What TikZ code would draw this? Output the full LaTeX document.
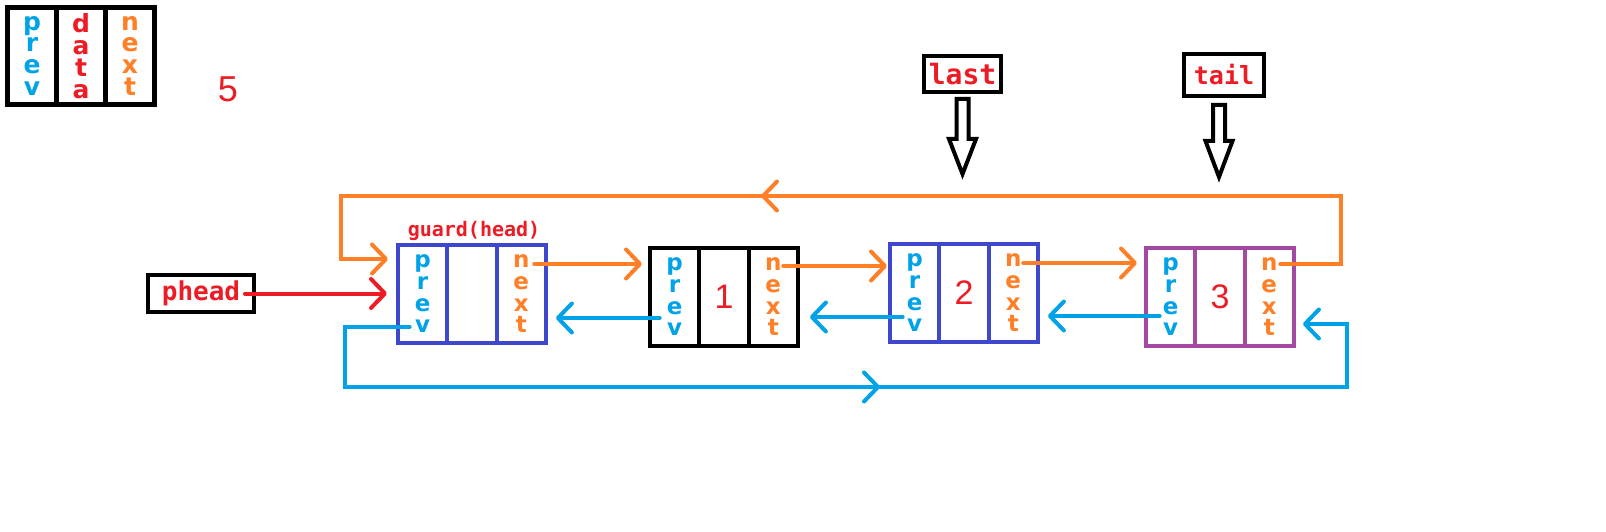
\documentclass[tikz,border=0pt]{standalone}
\usepackage{fontspec}
\usetikzlibrary{arrows.meta}
\newfontfamily\lblfont{DejaVu Sans Mono}
\newfontfamily\letfont{DejaVu Sans}
\newfontfamily\numfont{Liberation Sans}
\definecolor{cred}{HTML}{ED1C24}
\definecolor{cblue}{HTML}{00A2E8}
\definecolor{corange}{HTML}{FF7F27}
\definecolor{cind}{HTML}{3F48CC}
\definecolor{cpurple}{HTML}{A349A4}
\newcommand\PrevTxt{p\\r\\e\\v}
\newcommand\NextTxt{n\\e\\x\\t}
\newcommand\DataTxt{d\\a\\t\\a}
\begin{document}
\begin{tikzpicture}[x=1pt,y=-1pt,line cap=round,
  >={Straight Barb[length=14pt,width=29pt,round]},
  cell/.style={draw,line width=4pt,minimum width=49.3pt,minimum height=97.5pt,
    inner sep=0pt,outer sep=0pt,anchor=north west,align=center,
    font=\letfont\bfseries\fontsize{23}{21.7}\selectfont},
  lcell/.style={cell,line width=5pt,minimum width=49pt,minimum height=97pt,
    font=\letfont\bfseries\fontsize{25}{22}\selectfont},
  numcell/.style={cell,text=cred,font=\numfont\fontsize{34}{34}\selectfont},
  lblbox/.style={draw=black,line width=4pt,inner sep=0pt,outer sep=0pt,text=cred},
  oline/.style={draw=corange,line width=4pt,->},
  bline/.style={draw=cblue,line width=4pt,->},
  rline/.style={draw=cred,line width=4pt,->},
  blockarr/.style={draw=black,fill=white,line width=4pt,line join=miter,line cap=butt}
]
\fill[white] (0,0) rectangle (1606,532);
\useasboundingbox (0,0) rectangle (1606,532);

% legend
\node[lcell,text=cblue] (lp) at (7.5,7.5) {\PrevTxt};
\node[lcell,text=cred] (ld) at (lp.north east) {\DataTxt};
\node[lcell,text=corange] (ln) at (ld.north east) {\NextTxt};
\node[text=cred,font=\numfont\fontsize{36}{36}\selectfont,inner sep=0pt] (five) at (228,89) {5};

% guard
\node[cell,draw=cind,text=cblue] (gp) at (398,245) {\PrevTxt};
\node[cell,draw=cind] (gd) at (gp.north east) {};
\node[cell,draw=cind,text=corange] (gn) at (gd.north east) {\NextTxt};
\node[text=cred,font=\lblfont\bfseries\fontsize{20}{20}\selectfont,inner sep=0pt] (glabel) at (474,231) {guard(head)};

% node 1
\node[cell,draw=black,text=cblue] (n1p) at (650,248) {\PrevTxt};
\node[numcell,draw=black] (n1d) at (n1p.north east) {1};
\node[cell,draw=black,text=corange] (n1n) at (n1d.north east) {\NextTxt};

% node 2
\node[cell,draw=cind,text=cblue] (n2p) at (890,244) {\PrevTxt};
\node[numcell,draw=cind] (n2d) at (n2p.north east) {2};
\node[cell,draw=cind,text=corange] (n2n) at (n2d.north east) {\NextTxt};

% node 3
\node[cell,draw=cpurple,text=cblue] (n3p) at (1146,248) {\PrevTxt};
\node[numcell,draw=cpurple] (n3d) at (n3p.north east) {3};
\node[cell,draw=cpurple,text=corange] (n3n) at (n3d.north east) {\NextTxt};

% labels
\node[lblbox,minimum width=77pt,minimum height=36pt,font=\lblfont\bfseries\fontsize{28}{28}\selectfont] (last) at (962.5,74) {last};
\node[lblbox,minimum width=80pt,minimum height=42pt,font=\lblfont\bfseries\fontsize{25}{25}\selectfont] (tail) at (1224,75) {tail};
\node[lblbox,minimum width=106pt,minimum height=37pt,font=\lblfont\bfseries\fontsize{26}{26}\selectfont] (phead) at (201,293.5) {phead};

% block arrows
\draw[blockarr] ([shift={(0,7)}]last.south) ++(-6,0) -- ++(12,0) -- ++(0,40) -- ++(7.5,0)
  -- ++(-13.5,35) -- ++(-13.5,-35) -- ++(7.5,0) -- cycle;
\draw[blockarr] ([shift={(-5,9)}]tail.south) ++(-6,0) -- ++(12,0) -- ++(0,36) -- ++(7.5,0)
  -- ++(-13.5,36) -- ++(-13.5,-36) -- ++(7.5,0) -- cycle;

% coordinates
\coordinate (gnS) at ([shift={(13,19)}]gn.north);
\coordinate (n1nS) at ([shift={(10,18)}]n1n.north);
\coordinate (n2nS) at ([shift={(10,19)}]n2n.north);
\coordinate (n3nS) at ([shift={(11,16)}]n3n.north);
\coordinate (n1in) at ([shift={(-8,0)}]n1p.west);
\coordinate (n2in) at ([shift={(-3,0)}]n2p.west);
\coordinate (n3in) at ([shift={(-9,0)}]n3p.west);
\coordinate (gin) at ([shift={(-10,14)}]gp.north west);
\coordinate (topR) at (1341,196);
\coordinate (topL) at (341,196);
\coordinate (oMid) at (761,196);

\coordinate (gpS) at ([shift={(-13,82)}]gp.north);
\coordinate (n1pS) at ([shift={(-15,70)}]n1p.north);
\coordinate (n2pS) at ([shift={(-12,73)}]n2p.north);
\coordinate (n3pS) at ([shift={(-11,68)}]n3p.north);
\coordinate (gout) at ([shift={(10,0)}]gn.east);
\coordinate (n1out) at ([shift={(12,0)}]n1n.east);
\coordinate (n2out) at ([shift={(10,0)}]n2n.east);
\coordinate (n3in2) at ([shift={(9,76)}]n3n.north east);
\coordinate (botL) at (345,387);
\coordinate (botR) at (1347,387);
\coordinate (bMid) at (880,387);

% orange next links
\draw[oline] (gnS) -- (gnS -| n1in);
\draw[oline] (n1nS) -- (n1nS -| n2in);
\draw[oline] (n2nS) -- (n2nS -| n3in);
\draw[oline] (n3nS) -| (topR) -- (topL) |- (gin);
\draw[oline] ([shift={(10,0)}]oMid) -- (oMid);

% blue prev links
\draw[bline] (n1pS) -- (n1pS -| gout);
\draw[bline] (n2pS) -- (n2pS -| n1out);
\draw[bline] (n3pS) -- (n3pS -| n2out);
\draw[bline] (gpS) -| (botL) -- (botR) |- (n3in2);
\draw[bline] ([shift={(-10,0)}]bMid) -- (bMid);

% phead
\draw[rline] ([shift={(-9,0)}]phead.east) -- ([shift={(-11,0)}]gp.west |- phead.east);
\end{tikzpicture}
\end{document}
